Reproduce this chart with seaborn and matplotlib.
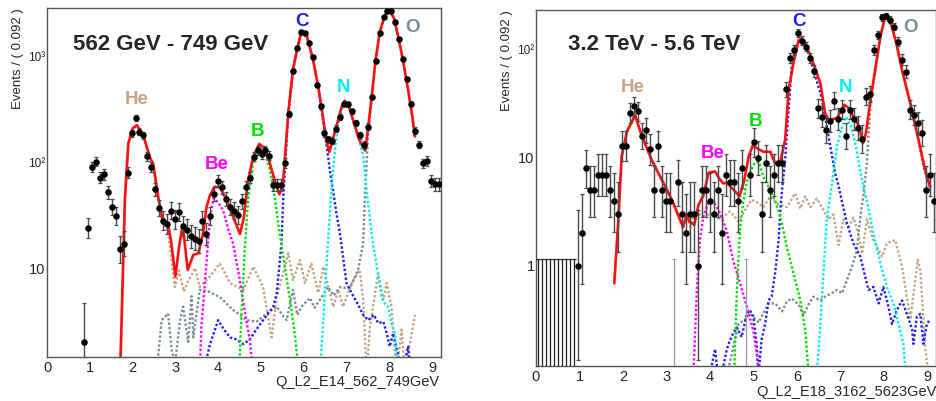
import numpy as np
import matplotlib
matplotlib.use("Agg")
import matplotlib.pyplot as plt
import seaborn as sns
from matplotlib.ticker import FixedLocator, FixedFormatter, MultipleLocator, LogLocator, NullFormatter

sns.set_style("white")
plt.rcParams['font.family'] = ['Liberation Sans', 'DejaVu Sans']

# ---------------- data ----------------
BIN_WIDTH = 0.092

# left panel: 562 GeV - 749 GeV (bins 9..99)
left_first_bin = 9
left_counts = [2,
               24, 90, 102, 72, 77, 52, 38, 31, 15, 17,
               80, 189, 262, 195, 182, 115, 91, 56, 37, 28,
               26, 35, 29, 34, 25, 23, 20, 19, 18, 28,
               21, 31, 50, 67, 58, 45, 38, 35, 32, 43,
               58, 72, 113, 130, 120, 132, 116, 61, 61, 61,
               99, 288, 736, 1225, 1725, 1700, 1365, 993, 546, 341,
               189, 166, 161, 209, 268, 361, 355, 305, 235, 182,
               147, 219, 417, 916, 1687, 2377, 2730, 2730, 2140, 1480,
               955, 616, 359, 200, 148, 98, 103, 67, 62, 62]

# right panel: 3.2 TeV - 5.6 TeV (bins 10..99), 0 = empty bin
right_first_bin = 10
right_counts = [1, 2, 8, 5, 5, 7, 7, 7, 5, 4,
                3, 13, 13, 26, 30, 27, 16, 18, 12, 5,
                13, 5, 4, 4, 0, 6, 3, 2, 3, 3,
                1, 5, 5, 4, 3, 5, 2, 7, 6, 6,
                4, 8, 0, 7, 14, 10, 3, 9, 5, 7,
                9, 9, 43, 84, 100, 143, 121, 107, 84, 64,
                29, 24, 18, 22, 34, 23, 28, 16, 28, 23,
                19, 15, 37, 39, 100, 138, 200, 206, 190, 164,
                119, 81, 63, 28, 25, 21, 17, 5, 7, 4]
right_empty_black_bins = [0, 1, 2, 3, 4, 5, 6, 7, 8, 9]
right_empty_gray_bins = [34, 52]
empty_bin_upper = 1.15

# ---- left fit curves ----
tot_L_x = [1.71, 1.82, 1.90, 2.00, 2.10, 2.25, 2.41, 2.48, 2.60, 2.70, 2.83, 2.90, 3.00, 3.08, 3.17,
           3.29, 3.42, 3.54, 3.65, 3.73, 3.81, 3.92, 4.04, 4.20, 4.35, 4.51, 4.60, 4.70, 4.82, 4.96,
           5.09, 5.21, 5.33, 5.43, 5.51, 5.64, 5.75, 5.86, 5.95, 6.08, 6.22, 6.34, 6.46, 6.53, 6.60,
           6.75, 6.89, 6.96, 7.06, 7.17, 7.30, 7.41, 7.44, 7.51, 7.59, 7.68, 7.78, 7.90, 8.00, 8.11,
           8.21, 8.32, 8.44, 8.54, 8.60]
tot_L_y = [1.0, 44, 151, 210, 226, 182, 110, 98, 47, 28.5, 25.6, 18, 8.3, 15, 25.7,
           9.6, 13.3, 13.8, 21.4, 38, 49, 59, 58, 44, 30.7, 21, 30, 68, 113, 150,
           136, 98, 66, 50, 59, 294, 760, 1250, 1740, 1550, 935, 525, 253, 160, 126,
           210, 340, 385, 340, 240, 163, 136, 130, 219, 420, 935, 1740, 2500, 2790, 2340,
           1550, 935, 490, 271, 176]

He_L_x = [1.71, 1.82, 1.90, 2.00, 2.10, 2.25, 2.41, 2.48, 2.60, 2.70, 2.83, 2.99, 3.08, 3.20, 3.30,
          3.46, 3.57, 3.77, 4.04, 4.28, 4.59, 4.82, 5.05, 5.25, 5.37, 5.64, 5.75, 5.91, 6.03, 6.18,
          6.34, 6.46, 6.69, 6.81, 6.92, 7.12, 7.31, 7.39, 7.47, 7.55, 7.74, 7.86, 7.94, 8.05, 8.17,
          8.29, 8.36, 8.60]
He_L_y = [1.0, 44, 150, 208, 224, 180, 108, 96, 45, 27, 22, 6.6, 9.5, 6.0, 7.5,
          10, 6.6, 8.0, 11, 7.2, 6.2, 10.3, 6.6, 2.2, 5.3, 13.8, 7.7, 11.9, 7.2, 11,
          5.8, 10.3, 4.3, 6.2, 4.3, 7.2, 9.6, 5.0, 1.0, 2.8, 8.9, 5.0, 7.2, 4.3, 1.0,
          2.6, 1.0, 3.6]

Be_L_x = [3.57, 3.61, 3.69, 3.81, 3.89, 4.00, 4.12, 4.24, 4.35, 4.50, 4.63, 4.74, 4.82]
Be_L_y = [1.0, 2.8, 7.2, 30, 46, 42, 35, 23, 17, 8.0, 3.7, 2.1, 1.0]

B_L_x = [4.49, 4.55, 4.63, 4.70, 4.82, 4.96, 5.09, 5.21, 5.29, 5.33, 5.44, 5.56, 5.68, 5.79, 5.89]
B_L_y = [1.0, 4.0, 17, 44, 100, 140, 125, 85, 57, 44, 21, 10.3, 5.0, 2.4, 1.0]

C_L_x = [3.65, 3.81, 4.00, 4.14, 4.28, 4.43, 4.59, 4.74, 4.86, 5.05, 5.29, 5.37, 5.48, 5.52, 5.57,
         5.64, 5.75, 5.86, 5.95, 6.08, 6.22, 6.34, 6.46, 6.55, 6.62, 6.69, 6.77, 6.85, 7.00, 7.12,
         7.27, 7.39, 7.51, 7.64, 7.74, 7.86, 7.94, 8.01, 8.09, 8.20, 8.30, 8.44, 8.50]
C_L_y = [1.0, 1.9, 3.2, 2.6, 2.2, 2.1, 1.9, 2.1, 2.5, 3.2, 4.3, 5.8, 17, 44, 100,
         290, 760, 1250, 1740, 1550, 935, 525, 240, 130, 80, 53, 32, 21, 7.2, 5.8,
         4.5, 3.6, 3.2, 3.6, 3.0, 3.1, 2.4, 1.8, 2.4, 1.55, 1.0, 1.8, 1.0]

N_L_x = [6.38, 6.50, 6.57, 6.65, 6.72, 6.80, 6.93, 7.06, 7.17, 7.30, 7.39, 7.47, 7.55, 7.62, 7.74,
         7.82, 7.90, 7.97, 8.05, 8.13, 8.20]
N_L_y = [1.0, 6.2, 18, 55, 120, 230, 355, 330, 235, 160, 115, 55, 28, 17, 8.9,
         5.3, 4.6, 4.3, 3.0, 2.4, 1.0]

O_L_x = [2.56, 2.68, 2.83, 2.92, 3.00, 3.10, 3.18, 3.30, 3.38, 3.42, 3.57, 3.77, 4.04, 4.35, 4.51,
         4.67, 4.90, 5.13, 5.37, 5.50, 5.60, 5.75, 5.85, 5.95, 6.15, 6.25, 6.38, 6.57, 6.70, 6.85,
         7.08, 7.27, 7.39, 7.43, 7.51, 7.59, 7.68, 7.78, 7.90, 8.00, 8.11, 8.21, 8.32, 8.44, 8.54,
         8.60]
O_L_y = [1.0, 3.2, 3.7, 1.6, 1.3, 3.0, 4.3, 2.0, 5.4, 2.2, 6.2, 6.0, 5.3, 4.0, 3.6,
         3.2, 3.1, 3.7, 4.3, 3.6, 3.2, 6.2, 3.6, 4.3, 5.2, 4.2, 5.0, 6.6, 5.5, 6.6,
         6.4, 9.6, 17, 47, 200, 400, 920, 1720, 2480, 2780, 2330, 1540, 930, 485, 268,
         174]

# ---- right fit curves ----
tot_R_x = [1.80, 1.89, 1.97, 2.09, 2.19, 2.28, 2.39, 2.55, 2.66, 2.76, 2.89, 3.01, 3.16, 3.28, 3.38,
           3.47, 3.52, 3.64, 3.74, 3.85, 3.97, 4.12, 4.23, 4.31, 4.38, 4.54, 4.68, 4.79, 4.89, 4.99,
           5.08, 5.23, 5.39, 5.50, 5.62, 5.73, 5.81, 5.92, 6.04, 6.12, 6.23, 6.38, 6.54, 6.65, 6.73,
           6.92, 7.09, 7.19, 7.30, 7.42, 7.52, 7.59, 7.69, 7.80, 7.92, 8.03, 8.16, 8.29, 8.42, 8.61,
           8.80, 8.95, 9.07]
tot_R_y = [0.69, 2.5, 10.3, 17.5, 21, 25, 18, 12.3, 9.6, 8, 6.3, 5.1, 3.8, 2.9, 2.3,
           3.0, 2.6, 2.4, 3.7, 4.5, 7.3, 7.5, 6.3, 5.8, 5.9, 5.1, 4.4, 6.2, 10.3, 13.2,
           12.3, 11.4, 11.4, 8.9, 9.2, 14.7, 42.6, 75, 123, 128, 107, 75, 49, 26, 22.5,
           23.3, 31, 29, 24, 20, 13.7, 17, 34, 65, 133, 203, 177, 115, 65, 32,
           14.7, 7.7, 5.4]

He_R_x = [1.80, 1.89, 1.97, 2.09, 2.19, 2.28, 2.39, 2.55, 2.66, 2.76, 2.89, 3.01, 3.16, 3.28, 3.38,
          3.47, 3.55, 3.64, 3.75, 3.85, 4.08, 4.23, 4.46, 4.66, 4.81, 4.96, 5.08, 5.23, 5.39, 5.54,
          5.77, 5.96, 6.08, 6.19, 6.31, 6.46, 6.61, 6.73, 6.84, 6.96, 7.07, 7.19, 7.30, 7.42, 7.50,
          7.61, 7.76, 7.96, 8.07, 8.26, 8.42, 8.61, 8.78, 8.84, 8.95, 9.02]
He_R_y = [0.69, 2.5, 10.3, 17.5, 21, 25, 18, 12.3, 9.6, 8, 6.3, 5.0, 3.7, 2.8, 2.2,
          2.9, 2.3, 3.2, 3.0, 2.9, 3.1, 2.7, 3.2, 2.6, 3.3, 4.1, 3.9, 3.5, 4.4, 3.8,
          3.5, 4.7, 3.4, 4.4, 3.5, 4.2, 3.3, 2.7, 3.0, 1.56, 2.7, 2.3, 2.8, 1.94, 1.3,
          2.7, 1.74, 1.22, 1.62, 1.74, 0.99, 0.32, 1.14, 0.9, 0.18, 0.1]

Be_R_x = [3.62, 3.70, 3.77, 3.85, 3.97, 4.08, 4.16, 4.23, 4.39, 4.54, 4.69, 4.85, 5.00, 5.08, 5.12]
Be_R_y = [0.1, 0.6, 1.74, 2.9, 3.9, 3.9, 3.5, 3.1, 2.1, 1.1, 0.7, 0.42, 0.25, 0.15, 0.1]

B_R_x = [4.56, 4.58, 4.62, 4.69, 4.77, 4.85, 4.93, 5.03, 5.12, 5.23, 5.39, 5.50, 5.62, 5.77, 5.92,
         6.08, 6.19, 6.27]
B_R_y = [0.1, 0.19, 0.6, 2.15, 4.0, 6.0, 7.5, 9.0, 9.2, 6.7, 5.0, 4.0, 2.86, 1.5, 0.86,
         0.48, 0.26, 0.1]

C_R_x = [4.00, 4.12, 4.18, 4.27, 4.39, 4.43, 4.54, 4.62, 4.73, 4.85, 4.92, 5.00, 5.08, 5.12, 5.19,
         5.27, 5.35, 5.42, 5.50, 5.58, 5.62, 5.66, 5.73, 5.81, 5.88, 6.00, 6.12, 6.24, 6.38, 6.54,
         6.65, 6.77, 6.88, 6.96, 7.00, 7.15, 7.30, 7.46, 7.57, 7.65, 7.76, 7.88, 7.99, 8.09, 8.19,
         8.30, 8.42, 8.53, 8.65, 8.68, 8.76, 8.84, 8.91, 8.99, 9.04]
C_R_y = [0.1, 0.17, 0.1, 0.1, 0.17, 0.19, 0.24, 0.27, 0.22, 0.36, 0.39, 0.34, 0.18, 0.1, 0.21,
         0.29, 0.48, 0.52, 0.86, 1.74, 3.3, 5.1, 9.6, 28, 70, 115, 123, 100, 65, 40,
         24, 12.7, 7.2, 5.5, 4.6, 2.5, 1.62, 1.22, 0.8, 0.6, 0.64, 0.45, 0.64, 0.45, 0.29,
         0.39, 0.48, 0.36, 0.26, 0.19, 0.34, 0.36, 0.19, 0.29, 0.31]

N_R_x = [6.46, 6.54, 6.61, 6.69, 6.77, 6.84, 6.92, 7.04, 7.13, 7.25, 7.34, 7.44, 7.53, 7.61, 7.76,
         7.92, 8.07, 8.22, 8.34, 8.45, 8.50]
N_R_y = [0.1, 0.29, 0.86, 2.7, 4.6, 7.2, 12.7, 19.5, 24, 19.5, 13.7, 8.3, 5.4, 4.0, 2.0,
         1.06, 0.64, 0.45, 0.29, 0.19, 0.1]

O_R_x = [4.40, 4.54, 4.66, 4.81, 4.92, 5.12, 5.35, 5.50, 5.66, 5.77, 5.88, 6.04, 6.15, 6.27, 6.38,
         6.54, 6.65, 6.80, 6.92, 7.04, 7.15, 7.27, 7.38, 7.46, 7.53, 7.61, 7.69, 7.80, 7.92, 8.03,
         8.16, 8.29, 8.42, 8.61, 8.80, 8.95, 9.07]
O_R_y = [0.1, 0.18, 0.29, 0.32, 0.36, 0.30, 0.45, 0.45, 0.38, 0.47, 0.50, 0.44, 0.35, 0.44, 0.52,
         0.48, 0.52, 0.56, 0.60, 0.56, 0.74, 0.99, 1.4, 2.86, 4.5, 9.0, 30, 63, 130, 200,
         175, 113, 64, 31, 14, 7.3, 5.0]

species = ["He", "Be", "B", "C", "N", "O"]
species_colors = {"He": "#c8a282", "Be": "#ff00ff", "B": "#00e000", "C": "#2020ee",
                  "N": "#00eeee", "O": "#7b8b97"}
TOTAL_COLOR = "#ff1010"

left_title = "562 GeV - 749 GeV"
right_title = "3.2 TeV - 5.6 TeV"
left_xlabel = "Q_L2_E14_562_749GeV"
right_xlabel = "Q_L2_E18_3162_5623GeV"
ylabel = "Events / ( 0.092 )"

# ---------------- figure ----------------
W, H = 936, 401
fig = plt.figure(figsize=(W / 100, H / 100), dpi=100)
fig.patch.set_facecolor("white")


def fp(x, y):
    return x / W, 1 - y / H


axL = fig.add_axes([47 / W, 1 - 357 / H, 393.6 / W, 349 / H])
axR = fig.add_axes([536 / W, 1 - 366 / H, 400 / W, 356 / H])

DOT = (0, (1.0, 0.9))


def draw_panel(ax, comps, tot, first_bin, counts, ylim):
    for name, (cx, cy) in comps.items():
        sns.lineplot(x=cx, y=cy, ax=ax, color=species_colors[name], linewidth=1.7,
                     linestyle=DOT, sort=False, estimator=None, zorder=2)
    sns.lineplot(x=tot[0], y=tot[1], ax=ax, color=TOTAL_COLOR, linewidth=1.9,
                 sort=False, estimator=None, zorder=3)
    c = np.asarray(counts, dtype=float)
    k = np.arange(first_bin, first_bin + len(c))
    xc = BIN_WIDTH * (k + 0.5)
    m = c > 0
    yv = c[m]
    lo = np.sqrt(yv - 0.25)
    hi = 1 + np.sqrt(yv + 0.75)
    ax.errorbar(xc[m], yv, yerr=[lo, hi], fmt='none', ecolor='#4a4a4a', elinewidth=1.0,
                capsize=1.6, capthick=0.9, zorder=4)
    sns.scatterplot(x=xc[m], y=yv, ax=ax, color='black', s=22, linewidth=0, zorder=5)
    ax.set_yscale('log')
    ax.set_xlim(0, 9.2)
    ax.set_ylim(*ylim)


draw_panel(axL,
           {"He": (He_L_x, He_L_y), "O": (O_L_x, O_L_y), "C": (C_L_x, C_L_y),
            "Be": (Be_L_x, Be_L_y), "B": (B_L_x, B_L_y), "N": (N_L_x, N_L_y)},
           (tot_L_x, tot_L_y), left_first_bin, left_counts, (1.434, 2911))
draw_panel(axR,
           {"He": (He_R_x, He_R_y), "O": (O_R_x, O_R_y), "C": (C_R_x, C_R_y),
            "Be": (Be_R_x, Be_R_y), "B": (B_R_x, B_R_y), "N": (N_R_x, N_R_y)},
           (tot_R_x, tot_R_y), right_first_bin, right_counts, (0.1186, 234))

# empty bins of the right panel
for bins, col in ((right_empty_black_bins, '#222222'), (right_empty_gray_bins, '#999999')):
    xe = BIN_WIDTH * (np.asarray(bins) + 0.5)
    axR.vlines(xe, 0.05, empty_bin_upper, color=col, linewidth=0.9, zorder=4)
    axR.hlines([empty_bin_upper] * len(xe), xe - 0.035, xe + 0.035, color=col,
               linewidth=0.9, zorder=4)


def style(ax, yticks, ylabels):
    ax.xaxis.set_major_locator(MultipleLocator(1))
    ax.xaxis.set_minor_locator(MultipleLocator(0.2))
    ax.yaxis.set_major_locator(FixedLocator(yticks))
    ax.yaxis.set_major_formatter(FixedFormatter(ylabels))
    ax.yaxis.set_minor_locator(LogLocator(base=10, subs=np.arange(2, 10), numticks=20))
    ax.yaxis.set_minor_formatter(NullFormatter())
    ax.tick_params(which='both', direction='in', top=False, right=False,
                   color='#333333', width=0.9)
    ax.tick_params(which='major', length=7, labelsize=10.5)
    ax.tick_params(which='minor', length=3.5)
    ax.tick_params(axis='x', which='major', pad=3)
    ax.tick_params(axis='y', which='major', pad=1.0)
    for s in ax.spines.values():
        s.set_color('#555555')
        s.set_linewidth(1.0)
    ax.set_xlabel('')
    ax.set_ylabel('')
    ax.set_facecolor('white')
    for lab in ax.get_yticklabels():
        if any(ch in lab.get_text() for ch in '²³'):
            lab.set_fontsize(8.5)


style(axL, [10, 100, 1000], ['10', '10²', '10³'])
style(axR, [1, 10, 100], ['1', '10', '10²'])

# axis titles
fig.text(*fp(18, 8), ylabel, rotation=90, ha='center', va='top', fontsize=9.5)
fig.text(*fp(507, 10), ylabel, rotation=90, ha='center', va='top', fontsize=9.5)
fig.text(*fp(439, 382), left_xlabel, ha='right', va='center', fontsize=10.5)
fig.text(*fp(756, 392), right_xlabel, ha='left', va='center', fontsize=10.5)

# panel titles
fig.text(*fp(73, 45), left_title, ha='left', va='center', fontsize=16, fontweight='bold')
fig.text(*fp(568, 45), right_title, ha='left', va='center', fontsize=16, fontweight='bold')

# species labels
left_label_pos = {"He": (137, 99), "Be": (217, 164), "B": (258, 131),
                  "C": (302, 21), "N": (344, 88), "O": (413, 28)}
right_label_pos = {"He": (633, 87), "Be": (713, 153), "B": (755, 122),
                   "C": (799, 22), "N": (845, 87), "O": (910, 27)}
for pos in (left_label_pos, right_label_pos):
    for name in species:
        fig.text(*fp(*pos[name]), name, ha='center', va='center', fontsize=13.5,
                 fontweight='bold', color=species_colors[name])

fig.savefig("out.png", dpi=100, facecolor='white')
